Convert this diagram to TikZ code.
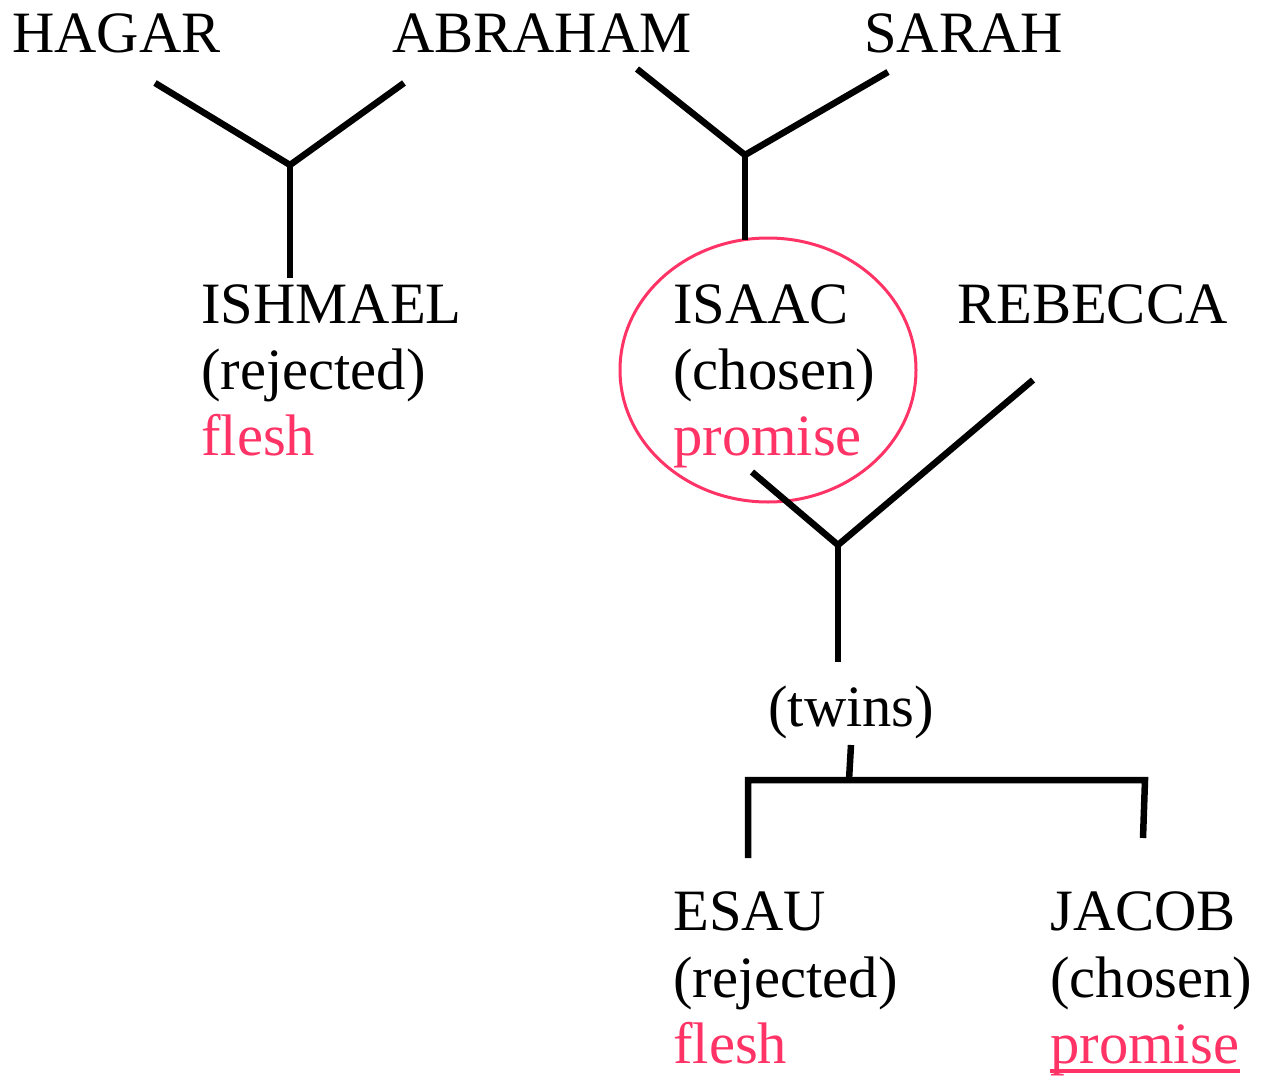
\documentclass[tikz,border=0pt]{standalone}
\usepackage{fontspec}
\setmainfont{Liberation Serif}
\usetikzlibrary{shapes.geometric}
\definecolor{pinkred}{HTML}{FF3366}
\begin{document}
\begin{tikzpicture}[x=1pt,y=-1pt,
  lbl/.style={anchor=base west,inner sep=0pt,font=\fontsize{58.6}{67}\selectfont},
  pk/.style={lbl,text=pinkred},
  link/.style={line width=6.5pt,line cap=butt,line join=miter}]
\useasboundingbox[fill=white] (0,0) rectangle (1267,1076);
% top generation
\node[lbl] (hagar) at (12,52) {HAGAR};
\node[lbl] (abraham) at (392,52) {ABRAHAM};
\node[lbl] (sarah) at (864,52) {SARAH};
% second generation
\node[lbl] (ishmael) at (201,323) {ISHMAEL};
\node[lbl] (ishmaelb) at (201,389) {(rejected)};
\node[pk] (ishmaelc) at (201,455) {flesh};
\node[lbl] (isaac) at (673,323) {ISAAC};
\node[lbl] (isaacb) at (673,389) {(chosen)};
\node[pk] (isaacc) at (673,455) {promise};
\node[lbl] (rebecca) at (957,323) {REBECCA};
\node[lbl] (twins) at (768,726) {(twins)};
% third generation
\node[lbl] (esau) at (673,930) {ESAU};
\node[lbl] (esaub) at (673,997) {(rejected)};
\node[pk] (esauc) at (673,1063) {flesh};
\node[lbl] (jacob) at (1050,930) {JACOB};
\node[lbl] (jacobb) at (1050,997) {(chosen)};
\node[pk] (jacobc) at (1050,1063) {promise};
\draw[pinkred,line width=4pt] (jacobc.base west)++(0,8) -- ++(190,0);
% circle round Isaac
\node[draw=pinkred,line width=3pt,ellipse,minimum width=296pt,minimum height=264pt,inner sep=0pt] (ring) at (768,370) {};
% junction coordinates
\coordinate (j1) at (290,165);
\coordinate (j1a) at (155,83);
\coordinate (j1b) at (404,83);
\coordinate (j1c) at (290,278);
\coordinate (j2) at (745,155);
\coordinate (j2a) at (637,69);
\coordinate (j2b) at (888,72);
\coordinate (j2c) at (745,240);
\coordinate (j3) at (838,545);
\coordinate (j3a) at (752,472);
\coordinate (j3b) at (1033,380);
\coordinate (j3c) at (838,662);
\coordinate (t0) at (851,745);
\coordinate (t1) at (849,780);
\coordinate (tl) at (748,780);
\coordinate (tr) at (1145,780);
\coordinate (tld) at (748,858);
\coordinate (trd) at (1143,838);
\draw[link] (j1a) -- (j1) -- (j1b);
\draw[link] (j1) -- (j1c);
\draw[link] (j2a) -- (j2) -- (j2b);
\draw[link] (j2) -- (j2c);
\draw[link] (j3a) -- (j3) -- (j3b);
\draw[link] (j3) -- (j3c);
\draw[link] (t0) -- (t1);
\draw[link] (tld) -- (tl) -- (tr) -- (trd);
\end{tikzpicture}
\end{document}
